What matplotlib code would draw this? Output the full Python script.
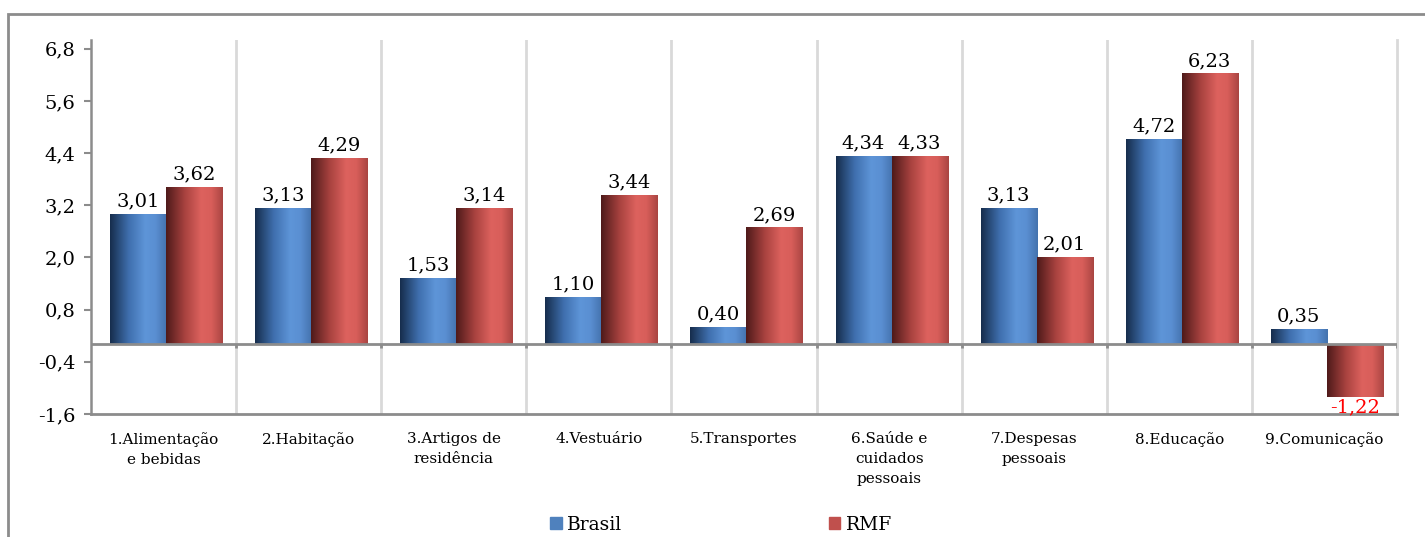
import numpy as np
import matplotlib.pyplot as plt
from matplotlib.colors import LinearSegmentedColormap
from matplotlib.patches import Patch, Rectangle

# variação acumulada por grupo (%)
categorias = ['1.Alimentação\ne bebidas', '2.Habitação', '3.Artigos de\nresidência',
              '4.Vestuário', '5.Transportes', '6.Saúde e\ncuidados\npessoais',
              '7.Despesas\npessoais', '8.Educação', '9.Comunicação']
brasil = [3.01, 3.13, 1.53, 1.10, 0.40, 4.34, 3.13, 4.72, 0.35]
rmf = [3.62, 4.29, 3.14, 3.44, 2.69, 4.33, 2.01, 6.23, -1.22]
yticks = [-1.6, -0.4, 0.8, 2.0, 3.2, 4.4, 5.6, 6.8]

plt.rcParams['font.family'] = ['DejaVu Serif']

azul = ['#162d4c', '#3f6fae', '#5e95d8', '#5a8fd2', '#4472ad']
vermelho = ['#4e1a1a', '#a8423f', '#dd625e', '#d85e5a', '#a94542']
pos = [0, 0.33, 0.62, 0.8, 1.0]


def sombrear(ax, barra, cores):
    cmap = LinearSegmentedColormap.from_list('g', list(zip(pos, cores)))
    x, y = barra.get_x(), barra.get_y()
    w, h = barra.get_width(), barra.get_height()
    grad = np.linspace(0, 1, 256).reshape(1, -1)
    im = ax.imshow(grad, cmap=cmap, extent=[x, x + w, y, y + h], aspect='auto',
                   interpolation='bilinear', zorder=3)
    im.set_clip_path(barra)


def fmt(v):
    return f'{v:.2f}'.replace('.', ',')


fig = plt.figure(figsize=(14.25, 5.37), dpi=100)
ax = fig.add_axes([91 / 1425, 1 - 414 / 537, (1397 - 91) / 1425, (414 - 40) / 537])

x = np.arange(len(categorias)) + 0.017
w = 0.386
b1 = ax.bar(x - w / 2, brasil, w, color='#4f81bd', zorder=2)
b2 = ax.bar(x + w / 2, rmf, w, color='#c0504d', zorder=2)
for b in b1:
    sombrear(ax, b, azul)
for b in b2:
    sombrear(ax, b, vermelho)

# rótulos de valor
for xi, v in zip(x - w / 2, brasil):
    ax.text(xi, v + 0.08, fmt(v), ha='center', va='bottom', fontsize=14)
for xi, v in zip(x + w / 2, rmf):
    if v >= 0:
        ax.text(xi, v + 0.08, fmt(v), ha='center', va='bottom', fontsize=14)
    else:
        ax.text(xi, v - 0.02, fmt(v), ha='center', va='top', fontsize=14, color='red')

ax.set_xlim(-0.5, len(categorias) - 0.5)
ax.set_ylim(-1.6, 7.0)

# linhas verticais entre categorias
for b in np.arange(0.5, len(categorias) - 0.5):
    ax.axvline(b, color='#d9d9d9', lw=2, zorder=1)
ax.axhline(0, color='#8c8c8c', lw=2, zorder=4)
ax.vlines(np.arange(0.5, len(categorias)), -0.09, 0, color='#8c8c8c', lw=2, zorder=4)

ax.set_yticks(yticks)
ax.set_yticklabels([f'{t:.1f}'.replace('.', ',') for t in yticks], fontsize=14)
ax.set_xticks(np.arange(len(categorias)))
ax.set_xticklabels(categorias, fontsize=11, linespacing=1.55, va='top')
ax.tick_params(axis='x', length=0, pad=13)
ax.tick_params(axis='y', length=5, width=1.5, color='#8c8c8c', pad=6)

ax.spines['top'].set_visible(False)
ax.spines['right'].set_color('#d9d9d9')
ax.spines['right'].set_linewidth(2)
ax.spines['left'].set_color('#8c8c8c')
ax.spines['left'].set_linewidth(1.8)
ax.spines['bottom'].set_color('#8c8c8c')
ax.spines['bottom'].set_linewidth(2)

# moldura externa
fig.patches.append(Rectangle((8 / 1425, -0.1), 1.2, 1.1 - 14 / 537, transform=fig.transFigure,
                             fill=False, edgecolor='#8c8c8c', lw=2))

handles = [Patch(color='#4f81bd', label='Brasil'), Patch(color='#c0504d', label='RMF')]
fig.legend(handles=handles, loc='center', bbox_to_anchor=(0.506, 1 - 525 / 537), ncol=2,
           frameon=False, fontsize=13.5, handlelength=0.6, handleheight=0.6,
           handletextpad=0.3, columnspacing=11.0)

fig.savefig('out.png', dpi=100)
